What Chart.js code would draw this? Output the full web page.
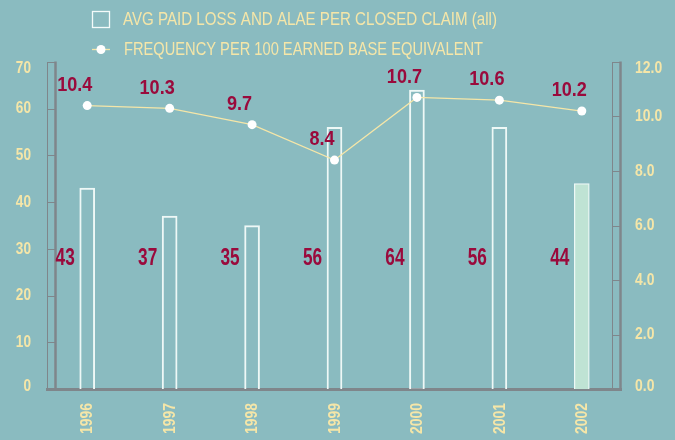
<!DOCTYPE html>
<html>
<head>
<meta charset="utf-8">
<script src="https://cdn.jsdelivr.net/npm/chart.js@4.4.1/dist/chart.umd.min.js"></script>
<style>
  html, body { margin: 0; padding: 0; background: #8abbc0; }
  #wrap { width: 675px; height: 440px; position: relative; }
</style>
</head>
<body>
<div id="wrap"><canvas id="lossChart"></canvas></div>
<script>
var years = ['1996', '1997', '1998', '1999', '2000', '2001', '2002'];
var avgPaidLoss = [43, 37, 35, 56, 64, 56, 44];
var frequency = [10.4, 10.3, 9.7, 8.4, 10.7, 10.6, 10.2];
var legendLabels = ['AVG PAID LOSS AND ALAE PER CLOSED CLAIM (all)', 'FREQUENCY PER 100 EARNED BASE EQUIVALENT'];

var FONT = "'Liberation Sans',Arial,sans-serif";
var BG = '#8abbc0';
var AXIS_GRAY = '#7f868b';
var CREAM = '#f5e6a8';
var CRIMSON = '#9a0a3c';

/* squeeze text horizontally, the original uses a condensed face */
function condensed(ctx, txt, x, y, sx, align) {
  var w = ctx.measureText(txt).width * sx;
  var x0 = align === 'right' ? x - w : (align === 'center' ? x - w / 2 : x);
  ctx.save();
  ctx.textAlign = 'left';
  ctx.translate(x0, y);
  ctx.scale(sx, 1);
  ctx.fillText(txt, 0, 0);
  ctx.restore();
}

function fitText(ctx, txt, x, y, w) {
  condensed(ctx, txt, x, y, w / ctx.measureText(txt).width, 'left');
}

/* ============ background + legend ============ */
var backdropPlugin = {
  id: 'backdrop',
  beforeDraw: function (chart) {
    var ctx = chart.ctx;
    ctx.save();
    ctx.fillStyle = BG;
    ctx.fillRect(0, 0, chart.width, chart.height);
    ctx.restore();
  },
  afterDraw: function (chart) {
    var ctx = chart.ctx;
    ctx.save();
    ctx.strokeStyle = '#f4fbfa';
    ctx.lineWidth = 1.3;
    ctx.strokeRect(92.5, 11.5, 17, 16);
    ctx.strokeStyle = CREAM;
    ctx.beginPath(); ctx.moveTo(92, 49.5); ctx.lineTo(110, 49.5); ctx.stroke();
    ctx.fillStyle = '#ffffff';
    ctx.beginPath(); ctx.arc(101, 49.5, 4.5, 0, Math.PI * 2); ctx.fill();

    ctx.fillStyle = CREAM;
    ctx.font = '17.5px ' + FONT;
    ctx.textBaseline = 'middle';
    fitText(ctx, legendLabels[0], 123, 20, 374);
    fitText(ctx, legendLabels[1], 124, 50.5, 359);
    ctx.restore();
  }
};

/* ============ ruler-style axes + tick labels ============ */
var rulerPlugin = {
  id: 'rulers',
  beforeDatasetsDraw: function (chart) {
    var ctx = chart.ctx;
    var area = chart.chartArea;
    var xs = chart.scales.x, yl = chart.scales.y, yr = chart.scales.y1;
    ctx.save();
    ctx.strokeStyle = AXIS_GRAY;

    function ruler(thinX, thickX, scale) {
      ctx.lineWidth = 1;
      ctx.beginPath();
      ctx.moveTo(thinX, area.top); ctx.lineTo(thinX, area.bottom);
      scale.ticks.forEach(function (t) {
        var py = Math.round(scale.getPixelForValue(t.value)) + 0.5;
        ctx.moveTo(Math.min(thinX, thickX), py);
        ctx.lineTo(Math.max(thinX, thickX), py);
      });
      ctx.stroke();
      ctx.lineWidth = 2.5;
      ctx.beginPath();
      ctx.moveTo(thickX, area.top - 0.5); ctx.lineTo(thickX, area.bottom);
      ctx.stroke();
    }
    ruler(47.5, 55.5, yl);
    ruler(612.5, 620.5, yr);

    ctx.lineWidth = 3;
    ctx.beginPath();
    ctx.moveTo(46, area.bottom + 0.5);
    ctx.lineTo(622, area.bottom + 0.5);
    ctx.stroke();

    // tick labels
    ctx.fillStyle = CREAM;
    ctx.font = 'bold 17px ' + FONT;
    ctx.textBaseline = 'middle';
    function nudge(i, n) { return i === n - 1 ? 6 : (i === 0 ? -3 : 0); }
    yl.ticks.forEach(function (t, i) {
      condensed(ctx, String(t.value), 31, yl.getPixelForValue(t.value) + nudge(i, yl.ticks.length), 0.8, 'right');
    });
    yr.ticks.forEach(function (t, i) {
      condensed(ctx, t.value.toFixed(1), 635, yr.getPixelForValue(t.value) + nudge(i, yr.ticks.length), 0.82, 'left');
    });
    xs.ticks.forEach(function (t, i) {
      var px = xs.getPixelForTick(i);
      var lbl = xs.getLabelForValue(t.value);
      var w = ctx.measureText(lbl).width;
      ctx.save();
      ctx.translate(px + 0.5, 403);
      ctx.rotate(-Math.PI / 2);
      ctx.scale(0.82, 1);
      ctx.textAlign = 'left';
      ctx.fillText(lbl, -w, 0);
      ctx.restore();
    });
    ctx.restore();
  }
};

/* ============ value labels ============ */
var valueLabelPlugin = {
  id: 'valueLabels',
  afterDatasetsDraw: function (chart) {
    var ctx = chart.ctx;
    ctx.save();
    ctx.fillStyle = CRIMSON;
    ctx.textBaseline = 'middle';
    ctx.font = 'bold 23px ' + FONT;
    chart.getDatasetMeta(0).data.forEach(function (el, i) {
      condensed(ctx, String(avgPaidLoss[i]), el.x - 22, 258.5, 0.75, 'center');
    });
    ctx.font = 'bold 21px ' + FONT;
    chart.getDatasetMeta(1).data.forEach(function (el, i) {
      condensed(ctx, frequency[i].toFixed(1), el.x - 12.5, el.y - 20.5, 0.86, 'center');
    });
    ctx.restore();
  }
};

new Chart(document.getElementById('lossChart'), {
  data: {
    labels: years,
    datasets: [{
      type: 'bar',
      label: legendLabels[0],
      data: avgPaidLoss,
      yAxisID: 'y',
      backgroundColor: avgPaidLoss.map(function (v, i) { return i === avgPaidLoss.length - 1 ? '#bfe3d4' : 'rgba(0,0,0,0)'; }),
      borderColor: '#eef8f6',
      borderWidth: 1.3,
      barThickness: 15,
      order: 2
    }, {
      type: 'line',
      label: legendLabels[1],
      data: frequency,
      yAxisID: 'y1',
      borderColor: CREAM,
      borderWidth: 1.2,
      pointRadius: 4.5,
      pointBackgroundColor: '#ffffff',
      pointBorderWidth: 0,
      tension: 0,
      order: 1
    }]
  },
  options: {
    responsive: true,
    maintainAspectRatio: false,
    animation: false,
    layout: { padding: { top: 62, left: 0, right: 0, bottom: 0 } },
    plugins: { legend: { display: false }, tooltip: { enabled: false } },
    scales: {
      x: {
        type: 'category',
        offset: true,
        grid: { display: false, drawTicks: false },
        border: { display: false },
        ticks: { display: false },
        afterFit: function (s) { s.height = 51; }
      },
      y: {
        position: 'left',
        min: 0, max: 70,
        grid: { display: false, drawTicks: false },
        border: { display: false },
        ticks: { stepSize: 10, display: false },
        afterFit: function (s) { s.width = 46; }
      },
      y1: {
        position: 'right',
        min: 0, max: 12,
        grid: { display: false, drawTicks: false },
        border: { display: false },
        ticks: { stepSize: 2, display: false },
        afterFit: function (s) { s.width = 52; }
      }
    }
  },
  plugins: [backdropPlugin, rulerPlugin, valueLabelPlugin]
});
</script>
</body>
</html>
